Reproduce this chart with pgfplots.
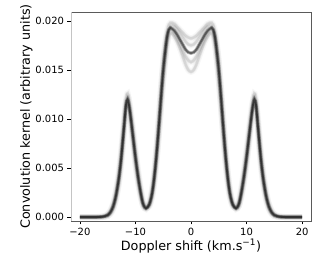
\documentclass[border=0pt]{standalone}
\usepackage{pgfplots}
\pgfplotsset{compat=1.18}
\usepackage{pgfplotstable}
\usetikzlibrary{calc}
\usepackage{fontspec}
\setmainfont{DejaVu Sans}
\pgfplotstableread{
v y1 y2 y3 y4 y5
-20.0 0 0 0 0 0
-18.0 0 0 0 0 0
-17.0 0 0 0 0 0
-16.0 .00003 .00005 .00002 .00005 0
-15.5 .0001 .0001 .00005 .0001 .00003
-15.0 .0002 .0003 .0001 .0003 .0001
-14.5 .0005 .0006 .0004 .0007 .0003
-14.0 .0011 .0013 .0009 .0014 .0008
-13.5 .0022 .0025 .0019 .0027 .0018
-13.0 .0039 .0042 .0036 .0046 .0033
-12.6 .0058 .0062 .0055 .0066 .0051
-12.3 .0076 .0079 .0074 .0085 .0069
-12.0 .0095 .0096 .0096 .0104 .0090
-11.7 .0114 .0111 .0119 .0118 .0112
-11.4 .0120 .0115 .0126 .0117 .0123
-11.1 .0112 .0109 .0115 .0107 .0118
-10.8 .0099 .0099 .0099 .0092 .0107
-10.4 .0080 .0082 .0077 .0072 .0089
-10.0 .0061 .0064 .0057 .0053 .0069
-9.5 .0040 .0043 .0036 .0034 .0047
-9.0 .0023 .0025 .0020 .0019 .0028
-8.6 .0013 .0014 .0011 .0011 .0016
-8.1 .0009 .0009 .0008 .0009 .0010
-7.5 .0013 .0012 .0014 .0015 .0011
-7.0 .0024 .0022 .0027 .0029 .0020
-6.6 .0041 .0037 .0045 .0047 .0035
-6.2 .0064 .0058 .0070 .0072 .0056
-5.8 .0092 .0084 .0100 .0101 .0082
-5.4 .0122 .0112 .0131 .0131 .0111
-5.0 .0150 .0140 .0159 .0157 .0139
-4.6 .0171 .0162 .0179 .0176 .0162
-4.3 .0184 .0176 .0190 .0186 .0178
-4.0 .0191 .0184 .0196 .0190 .0189
-3.7 .0193 .0187 .0198 .0191 .0194
-3.4 .0192 .0187 .0198 .0190 .0195
-3.0 .0190 .0184 .0197 .0187 .0194
-2.5 .0186 .0179 .0194 .0182 .0191
-2.0 .0181 .0172 .0191 .0176 .0187
-1.5 .0176 .0164 .0188 .0170 .0183
-1.0 .0171 .0156 .0185 .0164 .0179
-0.5 .0168 .0150 .0183 .0160 .0176
0.0 .0167 .0148 .0182 .0158 .0175
0.5 .0168 .0150 .0183 .0160 .0176
1.0 .0171 .0156 .0185 .0164 .0179
1.5 .0176 .0164 .0188 .0170 .0183
2.0 .0181 .0172 .0191 .0176 .0187
2.5 .0186 .0179 .0194 .0182 .0191
3.0 .0190 .0184 .0197 .0187 .0194
3.4 .0192 .0187 .0198 .0190 .0195
3.7 .0193 .0187 .0198 .0191 .0194
4.0 .0191 .0184 .0196 .0190 .0189
4.3 .0184 .0176 .0190 .0186 .0178
4.6 .0171 .0162 .0179 .0176 .0162
5.0 .0150 .0140 .0159 .0157 .0139
5.4 .0122 .0112 .0131 .0131 .0111
5.8 .0092 .0084 .0100 .0101 .0082
6.2 .0064 .0058 .0070 .0072 .0056
6.6 .0041 .0037 .0045 .0047 .0035
7.0 .0024 .0022 .0027 .0029 .0020
7.5 .0013 .0012 .0014 .0015 .0011
8.1 .0009 .0009 .0008 .0009 .0010
8.6 .0013 .0014 .0011 .0011 .0016
9.0 .0023 .0025 .0020 .0019 .0028
9.5 .0040 .0043 .0036 .0034 .0047
10.0 .0061 .0064 .0057 .0053 .0069
10.4 .0080 .0082 .0077 .0072 .0089
10.8 .0099 .0099 .0099 .0092 .0107
11.1 .0112 .0109 .0115 .0107 .0118
11.4 .0120 .0115 .0126 .0117 .0123
11.7 .0114 .0111 .0119 .0118 .0112
12.0 .0095 .0096 .0096 .0104 .0090
12.3 .0076 .0079 .0074 .0085 .0069
12.6 .0058 .0062 .0055 .0066 .0051
13.0 .0039 .0042 .0036 .0046 .0033
13.5 .0022 .0025 .0019 .0027 .0018
14.0 .0011 .0013 .0009 .0014 .0008
14.5 .0005 .0006 .0004 .0007 .0003
15.0 .0002 .0003 .0001 .0003 .0001
15.5 .0001 .0001 .00005 .0001 .00003
16.0 .00003 .00005 .00002 .00005 0
17.0 0 0 0 0 0
18.0 0 0 0 0 0
20.0 0 0 0 0 0
}\kernel
\definecolor{spine}{HTML}{5A5A5A}
\definecolor{lspine}{HTML}{C4C4C4}
\begin{document}
\begin{tikzpicture}
\begin{axis}[
  name=ax,
  scale only axis,
  width=240bp, height=209bp,
  xmin=-21.6, xmax=21.6,
  ymin=-0.0004, ymax=0.0209,
  scaled y ticks=false,
  xtick={-20,-10,0,10,20},
  xticklabels={−20,−10,0,10,20},
  ytick={0,0.005,0.01,0.015,0.02},
  yticklabels={0.000,0.005,0.010,0.015,0.020},
  xtick pos=bottom, ytick pos=left,
  tick align=outside,
  major tick length=3.5bp,
  tick style={black, line width=0.6bp},
  axis line style={spine, line width=0.9bp},
  ticklabel style={font=\fontsize{10}{12}\selectfont},
  label style={font=\fontsize{12.8}{15}\selectfont},
  xlabel={Doppler shift (km.s\textsuperscript{−1})},
  ylabel={Convolution kernel (arbitrary units)},
  xlabel style={yshift=3bp},
  ylabel style={yshift=-4bp},
  clip=true,
]
\foreach \c in {y2,y3,y4,y5}{
  \addplot[no marks, smooth, black, opacity=0.03, line width=6bp] table[x=v, y=\c] {\kernel};
}
\foreach \c in {y2,y3,y4,y5}{
  \addplot[no marks, smooth, black, opacity=0.06, line width=3.6bp] table[x=v, y=\c] {\kernel};
}
\foreach \c in {y2,y3,y4,y5}{
  \addplot[no marks, smooth, black, opacity=0.08, line width=2.2bp] table[x=v, y=\c] {\kernel};
}
\addplot[no marks, smooth, black, opacity=0.3, line width=3.4bp] table[x=v, y=y1] {\kernel};
\addplot[no marks, smooth, black, opacity=0.45, line width=1.8bp] table[x=v, y=y1] {\kernel};
\draw[lspine, line width=1.2bp] (rel axis cs:0,0) -- (rel axis cs:0,1);
\end{axis}
\pgfresetboundingbox
\useasboundingbox ($(ax.south west)+(-71bp,-45bp)$) rectangle ($(ax.north east)+(13bp,12bp)$);
\end{tikzpicture}
\end{document}
